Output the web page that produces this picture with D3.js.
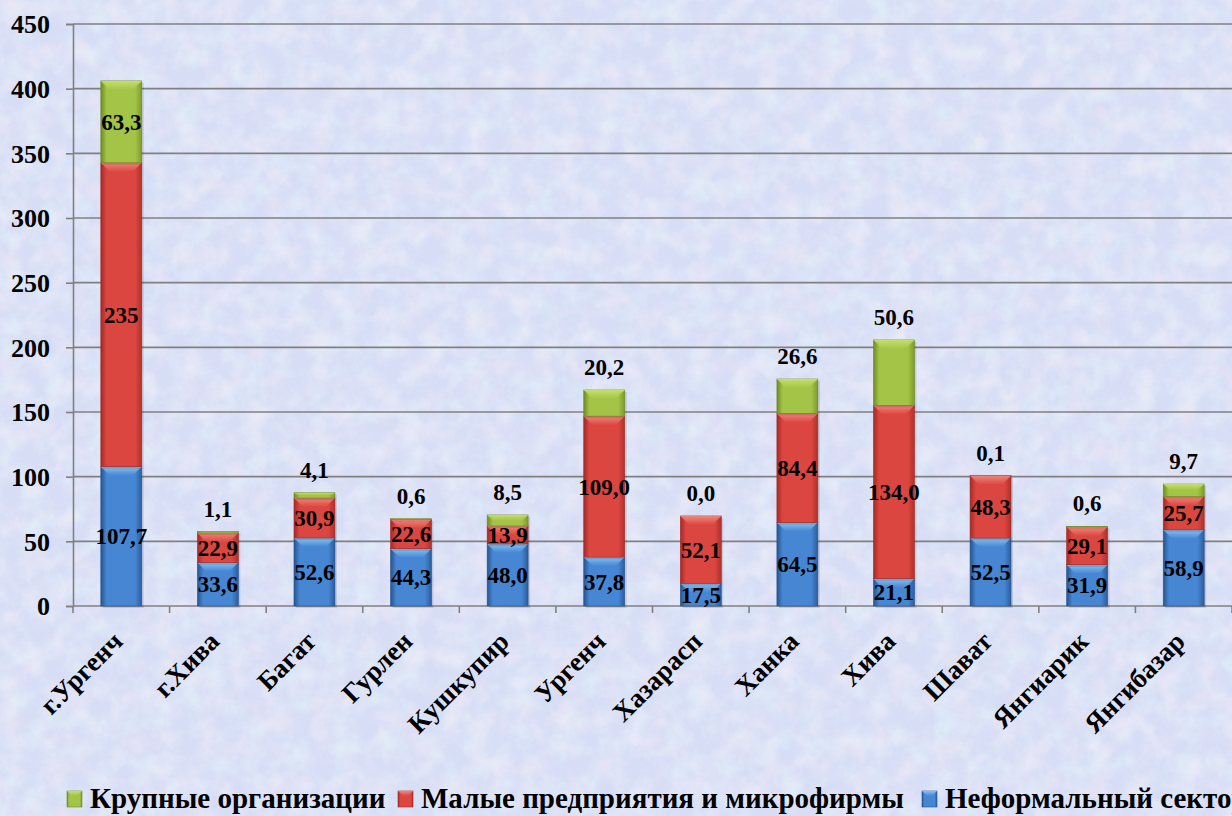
<!DOCTYPE html>
<html>
<head>
<meta charset="utf-8">
<script src="https://cdn.jsdelivr.net/npm/d3@7"></script>
</head>
<body style="margin:0;overflow:hidden">
<div id="chart"></div>
<script>
// districts of Khorezm region
const categories = ['г.Ургенч', 'г.Хива', 'Багат', 'Гурлен', 'Кушкупир', 'Ургенч', 'Хазарасп', 'Ханка', 'Хива', 'Шават', 'Янгиарик', 'Янгибазар'];

const informal = [107.7, 33.6, 52.6, 44.3, 48.0, 37.8, 17.5, 64.5, 21.1, 52.5, 31.9, 58.9];
const small = [235, 22.9, 30.9, 22.6, 13.9, 109.0, 52.1, 84.4, 134.0, 48.3, 29.1, 25.7];
const large = [63.3, 1.1, 4.1, 0.6, 8.5, 20.2, 0.0, 26.6, 50.6, 0.1, 0.6, 9.7];

// label text as printed on the chart
const smallLabels = ['235', '22,9', '30,9', '22,6', '13,9', '109,0', '52,1', '84,4', '134,0', '48,3', '29,1', '25,7'];

const yTicks = [0, 50, 100, 150, 200, 250, 300, 350, 400, 450];

const seriesNames = ['Крупные организации', 'Малые предприятия и микрофирмы', 'Неформальный сектор'];

const FONT = 'Liberation Serif';

const w = 1232, h = 816;
const margin = {top: 24, right: 0, bottom: 210, left: 73};

const svg = d3.select('#chart').append('svg')
  .attr('width', w)
  .attr('height', h);

const defs = svg.append('defs');

// pastel mottled background: lavender base with pink and cyan blotches
function blotch(id, seed, color, channel) {
  const fl = defs.append('filter').attr('id', id)
    .attr('x', 0).attr('y', 0).attr('width', '100%').attr('height', '100%');
  fl.append('feTurbulence').attr('type', 'fractalNoise').attr('baseFrequency', '0.045').attr('numOctaves', 4).attr('seed', seed).attr('result', 'n');
  const a = channel === 'r' ? '2.2 0 0 0 -0.85' : '0 2.2 0 0 -0.85';
  fl.append('feColorMatrix').attr('in', 'n').attr('type', 'matrix')
    .attr('values', `0 0 0 0 ${color[0]}  0 0 0 0 ${color[1]}  0 0 0 0 ${color[2]}  ${a}`);
}
blotch('pink', 5, [0.93, 0.83, 0.93], 'r');
blotch('cyan', 11, [0.8, 0.92, 0.97], 'g');

const g2 = defs.append('filter').attr('id', 'grain')
  .attr('x', 0).attr('y', 0).attr('width', '100%').attr('height', '100%');
g2.append('feTurbulence').attr('type', 'fractalNoise').attr('baseFrequency', '0.3').attr('numOctaves', 2).attr('seed', 3).attr('result', 'n');
g2.append('feColorMatrix').attr('in', 'n').attr('type', 'matrix')
  .attr('values', '0 0 0 0 0.74  0 0 0 0 0.78  0 0 0 0 0.92  0 0 0 -2 1.1');

svg.append('rect').attr('width', w).attr('height', h).attr('fill', '#d6ddf5');
svg.append('rect').attr('width', w).attr('height', h).attr('filter', 'url(#cyan)').attr('opacity', 0.55);
svg.append('rect').attr('width', w).attr('height', h).attr('filter', 'url(#pink)').attr('opacity', 0.45);
svg.append('rect').attr('width', w).attr('height', h).attr('filter', 'url(#grain)').attr('opacity', 0.2);

// bar gradients
const palette = {
  large: ['#6f8a22', '#a3c446', '#7e9a2a', '#c8e070'],
  small: ['#a32a26', '#dc4640', '#b0302b', '#f08a80'],
  informal: ['#26548f', '#4686d2', '#2b5d9e', '#8cc4f4']
};

Object.entries(palette).forEach(([key, c]) => {
  const lg = defs.append('linearGradient').attr('id', 'grad-' + key)
    .attr('x1', 0).attr('x2', 1).attr('y1', 0).attr('y2', 0);
  lg.append('stop').attr('offset', '0').attr('stop-color', c[0]);
  lg.append('stop').attr('offset', '0.14').attr('stop-color', c[1]);
  lg.append('stop').attr('offset', '0.84').attr('stop-color', c[1]);
  lg.append('stop').attr('offset', '1').attr('stop-color', c[2]);

  const tg = defs.append('linearGradient').attr('id', 'top-' + key)
    .attr('x1', 0).attr('x2', 0).attr('y1', 0).attr('y2', 1);
  tg.append('stop').attr('offset', '0').attr('stop-color', c[3]).attr('stop-opacity', 0.95);
  tg.append('stop').attr('offset', '1').attr('stop-color', c[3]).attr('stop-opacity', 0);
});

const x = d3.scaleBand()
  .domain(categories)
  .range([margin.left, w - margin.right])
  .paddingInner(0.576)
  .paddingOuter(0.288);

const y = d3.scaleLinear()
  .domain([0, 450])
  .range([h - margin.bottom, margin.top]);

// gridlines
svg.append('g').selectAll('line')
  .data(yTicks)
  .enter()
  .append('line')
  .attr('x1', margin.left)
  .attr('x2', w)
  .attr('y1', d => y(d))
  .attr('y2', d => y(d))
  .attr('stroke', '#808080')
  .attr('stroke-width', 1.6);

// y axis
const yAxis = svg.append('g')
  .attr('transform', `translate(${margin.left},0)`)
  .call(d3.axisLeft(y).tickValues(yTicks).tickSize(7).tickPadding(16).tickFormat(d3.format('d')));
yAxis.attr('font-family', null).attr('font-size', null);
yAxis.select('.domain').attr('stroke', '#808080').attr('stroke-width', 1.6);
yAxis.selectAll('.tick line').attr('stroke', '#808080').attr('stroke-width', 1.6);
yAxis.selectAll('.tick text')
  .attr('fill', '#000')
  .attr('dy', '0.34em')
  .style('font-family', FONT)
  .style('font-weight', 'bold')
  .style('font-size', '26px');

// category boundary ticks
const step = x.step();
svg.append('g').selectAll('line')
  .data(d3.range(categories.length + 1))
  .enter()
  .append('line')
  .attr('x1', i => margin.left + i * step)
  .attr('x2', i => margin.left + i * step)
  .attr('y1', y(0))
  .attr('y2', y(0) + 7)
  .attr('stroke', '#808080')
  .attr('stroke-width', 1.6);

// stacking
const rows = categories.map((c, i) => ({cat: c, informal: informal[i], small: small[i], large: large[i], i: i}));
const keys = ['informal', 'small', 'large'];
const stacked = d3.stack().keys(keys)(rows);

const bars = svg.append('g');

stacked.forEach(layer => {
  const key = layer.key;
  const grp = bars.append('g');

  // soft shadow
  grp.selectAll('rect.shadow')
    .data(layer)
    .enter()
    .append('rect')
    .attr('class', 'shadow')
    .attr('x', d => x(d.data.cat) + 2)
    .attr('y', d => y(d[1]) + 2)
    .attr('width', x.bandwidth())
    .attr('height', d => Math.max(0, y(d[0]) - y(d[1])))
    .attr('fill', '#000')
    .attr('opacity', 0.12);

  grp.selectAll('rect.seg')
    .data(layer)
    .enter()
    .append('rect')
    .attr('class', 'seg')
    .attr('x', d => x(d.data.cat))
    .attr('y', d => y(d[1]))
    .attr('width', x.bandwidth())
    .attr('height', d => Math.max(0, y(d[0]) - y(d[1])))
    .attr('fill', `url(#grad-${key})`)
    .attr('stroke', palette[key][0])
    .attr('stroke-width', 0.6);

  // bevel highlight at top of each segment
  grp.selectAll('path.bevel')
    .data(layer.filter(d => y(d[0]) - y(d[1]) > 2))
    .enter()
    .append('path')
    .attr('class', 'bevel')
    .attr('d', d => {
      const x0 = x(d.data.cat), x1 = x0 + x.bandwidth();
      const t = y(d[1]);
      const bh = Math.min(9, (y(d[0]) - t) / 2);
      return `M${x0},${t}L${x1},${t}L${x1 - bh},${t + bh}L${x0 + bh},${t + bh}Z`;
    })
    .attr('fill', `url(#top-${key})`);
});

// data labels
const fmt = v => d3.format('.1f')(v).replace('.', ',');
const cx = d => x(d.data.cat) + x.bandwidth() / 2;
const labels = svg.append('g');

function label(sel) {
  sel.attr('x', cx)
    .attr('dy', '0.35em')
    .attr('text-anchor', 'middle')
    .style('font-family', FONT)
    .style('font-weight', 'bold')
    .style('font-size', '23px');
}

labels.selectAll('text.inf')
  .data(stacked[0])
  .enter()
  .append('text')
  .call(label)
  .attr('y', d => (y(d[0]) + y(d[1])) / 2)
  .text(d => fmt(d.data.informal));

labels.selectAll('text.sm')
  .data(stacked[1])
  .enter()
  .append('text')
  .call(label)
  .attr('y', d => (y(d[0]) + y(d[1])) / 2)
  .text(d => smallLabels[d.data.i]);

labels.selectAll('text.lg')
  .data(stacked[2])
  .enter()
  .append('text')
  .call(label)
  .attr('y', d => d.data.large > 60 ? (y(d[0]) + y(d[1])) / 2 : y(d[1]) - 23)
  .text(d => fmt(d.data.large));

// category labels, rotated
svg.append('g').selectAll('text')
  .data(categories)
  .enter()
  .append('text')
  .attr('text-anchor', 'end')
  .style('font-family', FONT)
  .style('font-weight', 'bold')
  .style('font-size', '27px')
  .attr('transform', d => `translate(${x(d) + x.bandwidth() / 2 + 3},${y(0) + 37}) rotate(-45)`)
  .text(d => d);

// legend (item offsets follow the original layout, last one runs off the page)
const legendKeys = ['large', 'small', 'informal'];
const legendX = [0, 331, 855];
const legend = svg.append('g').attr('transform', 'translate(67,808)');
legendKeys.forEach((k, i) => {
  const item = legend.append('g').attr('transform', `translate(${legendX[i]},0)`);
  item.append('rect')
    .attr('x', 0).attr('y', -17)
    .attr('width', 15).attr('height', 16)
    .attr('fill', `url(#grad-${k})`)
    .attr('stroke', palette[k][0]).attr('stroke-width', 0.6);
  item.append('path')
    .attr('d', 'M0,-17L15,-17L10,-12L5,-12Z')
    .attr('fill', `url(#top-${k})`);
  item.append('text')
    .attr('x', 23)
    .attr('y', 0)
    .style('font-family', FONT)
    .style('font-weight', 'bold')
    .style('font-size', '29px')
    .text(seriesNames[i]);
});
</script>
</body>
</html>
